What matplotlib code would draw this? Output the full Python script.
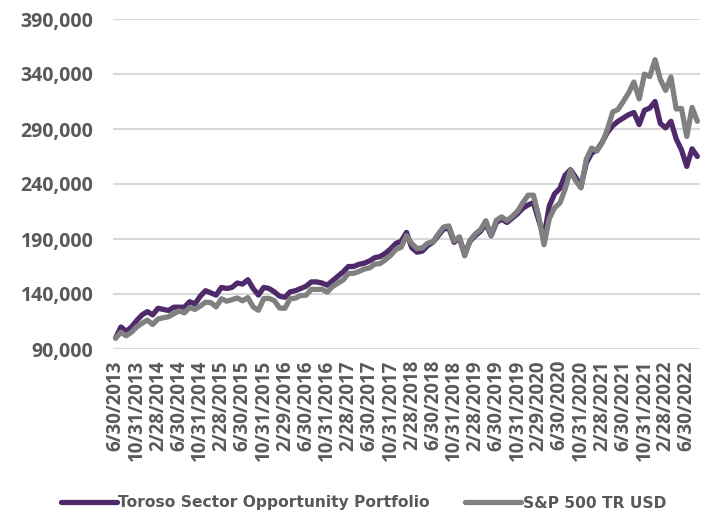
import numpy as np
import pandas as pd
import matplotlib
matplotlib.use("Agg")
import matplotlib.pyplot as plt
from matplotlib.ticker import FuncFormatter

# month-end dates 6/30/2013 .. 8/31/2022
dates = pd.date_range("2013-06-30", periods=111, freq="ME")
date_labels = [f"{d.month}/{d.day}/{d.year}" for d in dates]

# growth of 100,000 (in thousands)
toroso = [
    100, 110, 106, 110, 116, 121, 124, 121, 127, 126, 125, 128,
    128, 128, 133, 131, 138, 143, 141, 139, 146, 145, 146, 150,
    149, 153, 145, 139, 146, 145, 142, 138, 137, 142, 143, 145,
    147, 151, 151, 150, 148, 152, 156, 160, 165, 165, 167, 168,
    170, 173, 174, 177, 181, 186, 188, 196, 182, 178, 179, 184,
    187, 193, 199, 200, 187, 191, 176, 188, 193, 197, 204, 193,
    205, 208, 205, 209, 213, 218, 221, 223, 207, 192, 220, 231,
    236, 248, 253, 246, 238, 259, 268, 271, 278, 287, 293, 297,
    300, 303, 305, 294, 307, 309, 315, 295, 291, 297, 281, 271,
    256, 272, 265,
]
sp500 = [
    100.0, 105.2, 102.0, 105.3, 110.1, 113.4, 116.3, 112.3, 117.3, 118.4, 119.3, 122.1,
    124.6, 122.9, 127.7, 126.0, 129.1, 132.5, 132.2, 128.3, 135.6, 133.5, 134.8, 136.4,
    133.8, 136.7, 128.3, 125.2, 135.8, 136.1, 134.0, 127.3, 127.0, 135.7, 136.2, 138.6,
    138.9, 144.2, 144.2, 144.3, 141.7, 146.8, 149.7, 152.7, 158.6, 158.8, 160.5, 162.7,
    163.7, 167.2, 167.6, 171.1, 175.1, 180.5, 182.5, 193.1, 185.9, 181.2, 182.0, 186.2,
    187.4, 194.5, 200.8, 201.9, 188.3, 192.0, 174.7, 188.7, 194.7, 198.5, 206.6, 193.4,
    207.1, 210.1, 206.7, 210.6, 215.3, 223.0, 229.8, 229.8, 210.8, 184.8, 208.5, 218.3,
    222.7, 235.4, 252.3, 242.8, 236.5, 262.4, 272.6, 270.0, 277.5, 289.8, 305.5, 307.7,
    315.1, 322.8, 332.7, 317.4, 339.9, 337.7, 353.0, 335.1, 325.1, 337.3, 308.2, 308.7,
    283.2, 309.6, 297.0,
]

purple = "#4F2A6B"
grey = "#808080"
text_col = "#595959"

fig = plt.figure(figsize=(7.03, 5.14), dpi=100)
ax = fig.add_axes([113 / 703, 1 - 349 / 514, 587 / 703, 330 / 514])

x = np.arange(len(dates))
ax.plot(x, np.array(toroso) * 1000, color=purple, lw=3.8, solid_joinstyle="round",
        solid_capstyle="round", label="Toroso Sector Opportunity Portfolio", zorder=3)
ax.plot(x, np.array(sp500) * 1000, color=grey, lw=3.8, solid_joinstyle="round",
        solid_capstyle="round", label="S&P 500 TR USD", zorder=4)

ax.set_xlim(-0.5, len(dates) - 0.5)
ax.set_ylim(90000, 390000)
ax.set_yticks(np.arange(90000, 390001, 50000))
ax.yaxis.set_major_formatter(FuncFormatter(lambda v, p: f"{int(v):,}"))
ax.grid(axis="y", color="#D9D9D9", lw=1.5)
ax.set_axisbelow(True)
for s in ax.spines.values():
    s.set_visible(False)

tick_idx = x[::4]
ax.set_xticks(tick_idx)
ax.set_xticklabels([date_labels[i] for i in tick_idx], rotation=90, va="top")
ax.tick_params(length=0)
ax.tick_params(axis="x", pad=8)
ax.tick_params(axis="y", pad=14)
for lab in ax.get_xticklabels() + ax.get_yticklabels():
    lab.set_fontfamily("Open Sans")
    lab.set_fontweight("bold")
    lab.set_color(text_col)
for lab in ax.get_xticklabels():
    lab.set_fontsize(13.5)
for lab in ax.get_yticklabels():
    lab.set_fontsize(14)

leg = fig.legend(loc="center", bbox_to_anchor=(0.517, 1 - 503 / 514), ncol=2, frameon=False,
                 handlelength=3.6, handletextpad=0.1, columnspacing=2.3,
                 prop={"family": "DejaVu Sans", "weight": "bold", "size": 11.2})
for t in leg.get_texts():
    t.set_color(text_col)

fig.savefig("out.png", dpi=100)
